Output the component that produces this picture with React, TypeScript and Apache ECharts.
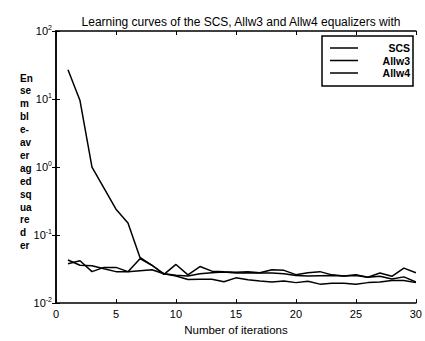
import React, { useEffect, useRef } from "react";
import * as echarts from "echarts";

const iterations = [1,2,3,4,5,6,7,8,9,10,11,12,13,14,15,16,17,18,19,20,21,22,23,24,25,26,27,28,29,30];
const scs = [27, 9.5, 1.0, 0.49, 0.24, 0.15, 0.047, 0.036, 0.0265, 0.037, 0.026, 0.0345, 0.0295, 0.0288, 0.0283, 0.0288, 0.028, 0.031, 0.0303, 0.0262, 0.028, 0.029, 0.026, 0.025, 0.0262, 0.024, 0.0277, 0.0248, 0.0327, 0.028];
const allw3 = [0.043, 0.036, 0.0355, 0.032, 0.029, 0.029, 0.030, 0.031, 0.027, 0.0257, 0.025, 0.027, 0.028, 0.0286, 0.0277, 0.028, 0.0277, 0.0277, 0.027, 0.0255, 0.025, 0.0252, 0.0254, 0.025, 0.0255, 0.024, 0.0248, 0.0226, 0.0243, 0.0204];
const allw4 = [0.038, 0.042, 0.029, 0.0335, 0.0335, 0.029, 0.045, 0.036, 0.027, 0.025, 0.0222, 0.0225, 0.0225, 0.0206, 0.0235, 0.022, 0.0211, 0.0204, 0.0212, 0.020, 0.021, 0.019, 0.0195, 0.0196, 0.019, 0.020, 0.0204, 0.0215, 0.0215, 0.020];
const seriesNames = ["SCS", "Allw3", "Allw4"];
const yLabelLines = ["En", "se", "m", "bl", "e-", "av", "er", "ag", "ed", "sq", "ua", "re", "d", "er"];
const titleText = "Learning curves of the SCS, Allw3 and Allw4 equalizers with";
const xName = "Number of iterations";

const FONT = "'Liberation Sans', Arial, Helvetica, sans-serif";

export default function App() {
  const ref = useRef<HTMLDivElement>(null);
  useEffect(() => {
    if (!ref.current) return;
    const chart = echarts.init(ref.current, null, { renderer: "svg" });
    const mk = (arr: number[]) => iterations.map((x, i) => [x, arr[i]]);
    const allSeries = [scs, allw3, allw4];
    const grid = { left: 56, right: 7, top: 31, bottom: 30 };
    const legendRows = seriesNames.map((n, i) => ({
      type: "group",
      children: [
        { type: "line", shape: { x1: 330, y1: 48 + i * 12.5, x2: 358, y2: 48 + i * 12.5 }, style: { stroke: "#000", lineWidth: 1.5 } },
        { type: "text", x: 410, y: 48 + i * 12.5, style: { text: n, fill: "#000", font: `bold 10.5px ${FONT}`, align: "right", verticalAlign: "middle" } },
      ],
    }));
    chart.setOption({
      animation: false,
      backgroundColor: "#fff",
      title: {
        text: titleText,
        left: 236,
        textAlign: "center",
        top: 11,
        textStyle: { fontSize: 12, fontWeight: "normal", color: "#000", fontFamily: FONT },
      },
      grid,
      xAxis: [
        {
          type: "value", min: 0, max: 30, interval: 5,
          axisLine: { lineStyle: { color: "#000", width: 1.5 } },
          axisTick: { inside: true, length: 4, lineStyle: { color: "#000" } },
          splitLine: { show: false },
          axisLabel: { color: "#000", fontSize: 11, fontFamily: FONT, margin: 5 },
          name: xName, nameLocation: "middle", nameGap: 18,
          nameTextStyle: { color: "#000", fontSize: 11.5, fontFamily: FONT },
        },
        {
          type: "value", min: 0, max: 30, interval: 5, position: "top",
          axisLine: { lineStyle: { color: "#000", width: 1.5 } },
          axisTick: { inside: true, length: 4, lineStyle: { color: "#000" } },
          splitLine: { show: false }, axisLabel: { show: false },
        },
      ],
      yAxis: [
        {
          type: "log", logBase: 10, min: 0.01, max: 100,
          axisLine: { show: true, lineStyle: { color: "#000", width: 1.5 } },
          axisTick: { inside: true, length: 4, lineStyle: { color: "#000" } },
          splitLine: { show: false },
          axisLabel: {
            margin: 4,
            formatter: (v: number) => `{b|10}{s|${Math.round(Math.log10(v))}}`,
            rich: {
              b: { fontSize: 11, fontFamily: FONT, color: "#000" },
              s: { fontSize: 7, fontFamily: FONT, color: "#000", verticalAlign: "top", padding: [0, 0, 8, 0] },
            },
          },
        },
        {
          type: "log", logBase: 10, min: 0.01, max: 100, position: "right",
          axisLine: { show: true, lineStyle: { color: "#000", width: 1.5 } },
          axisTick: { inside: true, length: 4, lineStyle: { color: "#000" } },
          splitLine: { show: false }, axisLabel: { show: false },
        },
      ],
      series: allSeries.map((arr, i) => ({
        type: "line",
        name: seriesNames[i],
        data: mk(arr),
        showSymbol: false,
        lineStyle: { color: "#000", width: 1.5 },
        itemStyle: { color: "#000" },
      })),
      graphic: [
        { type: "rect", shape: { x: 322, y: 36, width: 91, height: 50 }, style: { fill: "#fff", stroke: "#000", lineWidth: 1.5 } },
        ...legendRows,
        ...yLabelLines.map((t, i) => ({
          type: "text", x: 20, y: 78 + i * 12.9,
          style: { text: t, fill: "#000", font: `bold 10px ${FONT}`, align: "left", verticalAlign: "middle" },
        })),
      ],
    });
    return () => chart.dispose();
  }, []);
  return <div ref={ref} style={{ position: "fixed", left: 0, top: 0, width: 425, height: 341, background: "#fff" }} />;
}
